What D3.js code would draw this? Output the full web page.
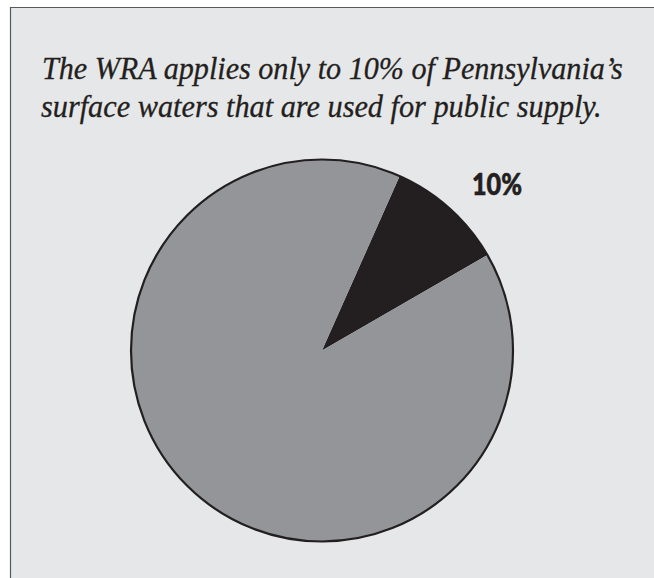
<!DOCTYPE html>
<html>
<head>
<meta charset="utf-8">
<script src="https://cdn.jsdelivr.net/npm/d3@7"></script>
<style>
  html, body { margin: 0; padding: 0; background: #ffffff; }
  svg { display: block; }
  .title { font-family: "Liberation Serif", "Times New Roman", Tinos, "Noto Serif", serif; font-style: italic; }
</style>
</head>
<body>
<svg id="chart" width="654" height="578"></svg>
<script>
// ---- data ----
const titleLines = [
  "The WRA applies only to 10% of Pennsylvania\u2019s",
  "surface waters that are used for public supply."
];
const categories = ["Public supply", "Other surface waters"];
const values = [10, 90];
const sliceLabels = ["10%", ""];

// ---- drawing ----
const W = 654, H = 578;
const svg = d3.select("#chart");

// panel background with top & left border
svg.append("rect").attr("x", 10).attr("y", 7).attr("width", W - 10).attr("height", H - 7)
  .attr("fill", "#e6e7e8");
svg.append("line").attr("x1", 10).attr("x2", W).attr("y1", 7.5).attr("y2", 7.5)
  .attr("stroke", "#58595b").attr("stroke-width", 1.2);
svg.append("line").attr("x1", 10.5).attr("x2", 10.5).attr("y1", 7).attr("y2", H)
  .attr("stroke", "#58595b").attr("stroke-width", 1.2);

// title (horizontally condensed to mimic the narrow italic face of the original)
const targets = [{x: 42, y: 79, w: 581}, {x: 41, y: 117, w: 561}];
titleLines.forEach((t, i) => {
  const holder = svg.append("g").attr("transform", `translate(${targets[i].x},${targets[i].y})`);
  const txt = holder.append("text")
    .attr("class", "title")
    .attr("x", 0).attr("y", 0)
    .attr("font-size", 32)
    .attr("fill", "#231f20")
    .attr("stroke", "#231f20").attr("stroke-width", 0.3)
    .text(t);
  const len = txt.node().getComputedTextLength();
  const sx = len > 0 ? targets[i].w / len : 1;
  txt.attr("transform", `scale(${sx},1)`);
});

// pie
const cx = 322, cy = 350.5, r = 191;
const startDeg = 24;
const pie = d3.pie().sort(null).value(d => d)
  .startAngle(startDeg * Math.PI / 180)
  .endAngle(startDeg * Math.PI / 180 + 2 * Math.PI);
const arcs = pie(values);
const arc = d3.arc().innerRadius(0).outerRadius(r);
const color = d3.scaleOrdinal().domain(categories).range(["#231f20", "#939598"]);

const g = svg.append("g").attr("transform", `translate(${cx},${cy})`);
g.selectAll("path.slice").data(arcs).join("path")
  .attr("class", "slice")
  .attr("d", arc)
  .attr("fill", (d, i) => color(categories[i]));

g.append("circle").attr("r", r).attr("fill", "none")
  .attr("stroke", "#231f20").attr("stroke-width", 2.2);

// label for the small slice
arcs.forEach((d, i) => {
  if (!sliceLabels[i]) return;
  g.append("text")
    .attr("x", 472 - cx).attr("y", 195 - cy)
    .attr("font-family", "Lato, 'Open Sans', sans-serif")
    .attr("font-weight", 900)
    .attr("font-size", 30)
    .attr("fill", "#231f20")
    .attr("stroke", "#231f20").attr("stroke-width", 0.6)
    .attr("textLength", 50)
    .attr("lengthAdjust", "spacingAndGlyphs")
    .text(sliceLabels[i]);
});
</script>
</body>
</html>
